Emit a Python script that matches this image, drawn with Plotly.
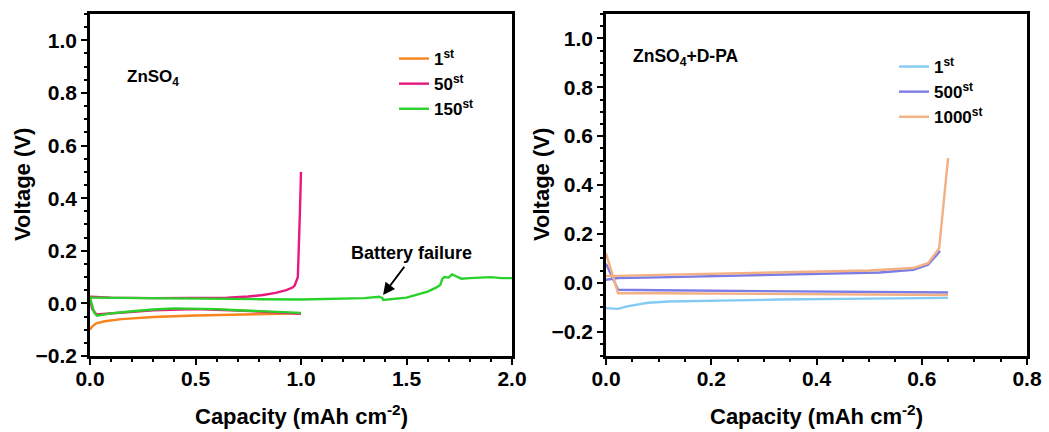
import plotly.graph_objects as go

# ---------------- Left panel: ZnSO4 ----------------
c1_dis_x = [0, 0.01, 0.03, 0.07, 0.15, 0.3, 0.5, 0.7, 0.9, 1.0]
c1_dis_v = [-0.1, -0.088, -0.076, -0.068, -0.06, -0.052, -0.046, -0.042, -0.039, -0.038]

c50_dis_x = [0, 0.01, 0.03, 0.1, 0.3, 0.5, 0.7, 0.9, 1.0]
c50_dis_v = [0.02, -0.02, -0.042, -0.038, -0.026, -0.022, -0.027, -0.035, -0.04]
c50_chg_x = [0, 0.1, 0.3, 0.5, 0.65, 0.75, 0.82, 0.88, 0.93, 0.96, 0.97, 0.985, 0.99, 0.995, 1.0]
c50_chg_v = [0.025, 0.022, 0.02, 0.02, 0.022, 0.026, 0.032, 0.04, 0.05, 0.06, 0.068, 0.1, 0.2, 0.35, 0.5]

c150_dis_x = [0, 0.01, 0.02, 0.033, 0.05, 0.1, 0.2, 0.3, 0.4, 0.5, 0.6, 0.7, 0.8, 0.9, 1.0]
c150_dis_v = [0.02, -0.01, -0.035, -0.047, -0.044, -0.038, -0.03, -0.023, -0.019, -0.02, -0.022, -0.026, -0.03, -0.033, -0.036]
c150_chg_x = [0, 0.2, 0.5, 0.8, 1.0, 1.2, 1.3, 1.37, 1.385, 1.39, 1.45, 1.5, 1.55, 1.6, 1.64, 1.66, 1.67, 1.68,
              1.7, 1.716, 1.73, 1.76, 1.8, 1.9, 1.95, 2.0]
c150_chg_v = [0.022, 0.02, 0.018, 0.016, 0.015, 0.017, 0.02, 0.025, 0.021, 0.013, 0.018, 0.022, 0.033, 0.045, 0.06,
              0.07, 0.094, 0.1, 0.098, 0.11, 0.105, 0.094, 0.096, 0.1, 0.096, 0.096]

# ---------------- Right panel: ZnSO4 + D-PA ----------------
d1_dis_x = [0, 0.01, 0.023, 0.04, 0.06, 0.08, 0.12, 0.2, 0.33, 0.5, 0.65]
d1_dis_v = [-0.104, -0.106, -0.107, -0.097, -0.088, -0.082, -0.077, -0.073, -0.069, -0.065, -0.062]

d500_dis_x = [0, 0.023, 0.1, 0.4, 0.65]
d500_dis_v = [0.078, -0.029, -0.031, -0.036, -0.04]
d500_chg_x = [0, 0.023, 0.1, 0.33, 0.52, 0.584, 0.612, 0.635]
d500_chg_v = [0.012, 0.019, 0.022, 0.032, 0.042, 0.053, 0.074, 0.13]

d1000_dis_x = [0, 0.023, 0.1, 0.3, 0.5, 0.65]
d1000_dis_v = [0.12, -0.043, -0.043, -0.045, -0.047, -0.05]
d1000_chg_x = [0, 0.023, 0.1, 0.33, 0.5, 0.584, 0.612, 0.633, 0.65]
d1000_chg_v = [0.028, 0.028, 0.032, 0.042, 0.05, 0.06, 0.08, 0.14, 0.51]

C_ORANGE = "#F7841E"
C_PINK = "#E8197E"
C_GREEN = "#2BD12B"
C_LBLUE = "#84CBF3"
C_BLUE = "#7C7CE6"
C_PEACH = "#F3B083"

LW = 2.4

fig = go.Figure()

def add(x, y, color, name, show, xa, ya, legend):
    fig.add_trace(go.Scatter(x=x, y=y, mode="lines", line=dict(color=color, width=LW),
                             name=name, legendgroup=name, showlegend=show,
                             xaxis=xa, yaxis=ya, legend=legend))

add(c1_dis_x, c1_dis_v, C_ORANGE, "1<sup>st</sup>", True, "x", "y", "legend")
add(c50_dis_x, c50_dis_v, C_PINK, "50<sup>st</sup>", True, "x", "y", "legend")
add(c50_chg_x, c50_chg_v, C_PINK, "50<sup>st</sup>", False, "x", "y", "legend")
add(c150_dis_x, c150_dis_v, C_GREEN, "150<sup>st</sup>", True, "x", "y", "legend")
add(c150_chg_x, c150_chg_v, C_GREEN, "150<sup>st</sup>", False, "x", "y", "legend")

add(d1_dis_x, d1_dis_v, C_LBLUE, "1<sup>st</sup> ", True, "x2", "y2", "legend2")
add(d500_dis_x, d500_dis_v, C_BLUE, "500<sup>st</sup>", True, "x2", "y2", "legend2")
add(d500_chg_x, d500_chg_v, C_BLUE, "500<sup>st</sup>", False, "x2", "y2", "legend2")
add(d1000_dis_x, d1000_dis_v, C_PEACH, "1000<sup>st</sup>", True, "x2", "y2", "legend2")
add(d1000_chg_x, d1000_chg_v, C_PEACH, "1000<sup>st</sup>", False, "x2", "y2", "legend2")

FONT = "Arial, Liberation Sans, sans-serif"
tickfont = dict(family=FONT, size=21, color="black", weight="bold")

def axis_common():
    return dict(showline=True, linewidth=2.5, linecolor="black", mirror=True,
                ticks="outside", ticklen=6, tickwidth=2, tickcolor="black",
                showgrid=False, zeroline=False, tickfont=tickfont, automargin=False,
                minor=dict(ticks="outside", ticklen=3.5, tickwidth=1.5, tickcolor="black", showgrid=False))

ML, MR, MT, MB = 90, 22, 14, 76
W = 1049 - ML - MR
H = 432 - MT - MB

def px_x(px):
    return (px - ML) / W

def px_y(py):
    return (432 - MB - py) / H

fig.update_layout(
    width=1049, height=432,
    margin=dict(l=ML, r=MR, t=MT, b=MB, autoexpand=False),
    paper_bgcolor="white", plot_bgcolor="white",
    font=dict(family=FONT, color="black"),
    xaxis=dict(domain=[0, px_x(512)], range=[0, 2.0], dtick=0.5, tickformat=".1f",
               anchor="y", ticklabelstandoff=-4, **axis_common()),
    yaxis=dict(domain=[0, 1], range=[-0.2, 1.1], dtick=0.2, tickformat=".1f", anchor="x", **axis_common()),
    xaxis2=dict(domain=[px_x(606), 1], range=[0, 0.8], dtick=0.2, tickformat=".1f",
                anchor="y2", ticklabelstandoff=-4, **axis_common()),
    yaxis2=dict(domain=[0, 1], range=[-0.3, 1.1], dtick=0.2, tickformat=".1f", anchor="x2", **axis_common()),
    legend=dict(x=px_x(394), y=px_y(41), xanchor="left", yanchor="top", bgcolor="rgba(0,0,0,0)",
                font=dict(family=FONT, size=17, color="black", weight="bold"),
                tracegroupgap=0, itemwidth=30),
    legend2=dict(x=px_x(894), y=px_y(49), xanchor="left", yanchor="top", bgcolor="rgba(0,0,0,0)",
                 font=dict(family=FONT, size=17, color="black", weight="bold"),
                 tracegroupgap=0, itemwidth=30),
    showlegend=True,
)

ann_font = dict(family=FONT, size=17, color="black", weight="bold")
title_font = dict(family=FONT, size=22, color="black", weight="bold")

fig.add_annotation(x=0.165, y=0.855, xref="x", yref="y", text="ZnSO<sub>4</sub>", showarrow=False,
                   xanchor="left", yanchor="middle", font=ann_font)
fig.add_annotation(x=0.048, y=0.92, xref="x2", yref="y2", text="ZnSO<sub>4</sub>+D-PA", showarrow=False,
                   xanchor="left", yanchor="middle",
                   font=dict(family=FONT, size=17.5, color="black", weight="bold"))
fig.add_annotation(x=1.389, y=0.032, xref="x", yref="y", ax=1.495, ay=0.145, axref="x", ayref="y",
                   text="", showarrow=True, arrowhead=2, arrowsize=1.2, arrowwidth=2, arrowcolor="black")
fig.add_annotation(x=1.526, y=0.191, xref="x", yref="y", text="Battery failure", showarrow=False,
                   xanchor="center", yanchor="middle",
                   font=dict(family=FONT, size=18, color="black", weight="bold"))

# axis titles
fig.add_annotation(x=px_x((90 + 512) / 2), y=px_y(415), xref="paper", yref="paper",
                   xanchor="center", yanchor="middle",
                   text="Capacity (mAh cm<sup>-2</sup>)", showarrow=False, font=title_font)
fig.add_annotation(x=px_x((606 + 1027) / 2), y=px_y(415), xref="paper", yref="paper",
                   xanchor="center", yanchor="middle",
                   text="Capacity (mAh cm<sup>-2</sup>)", showarrow=False, font=title_font)
fig.add_annotation(x=px_x(22), y=px_y(185), xref="paper", yref="paper", text="Voltage (V)",
                   xanchor="center", yanchor="middle",
                   textangle=-90, showarrow=False, font=title_font)
fig.add_annotation(x=px_x(541), y=px_y(185), xref="paper", yref="paper", text="Voltage (V)",
                   xanchor="center", yanchor="middle",
                   textangle=-90, showarrow=False, font=title_font)

fig.write_html("out.html")
